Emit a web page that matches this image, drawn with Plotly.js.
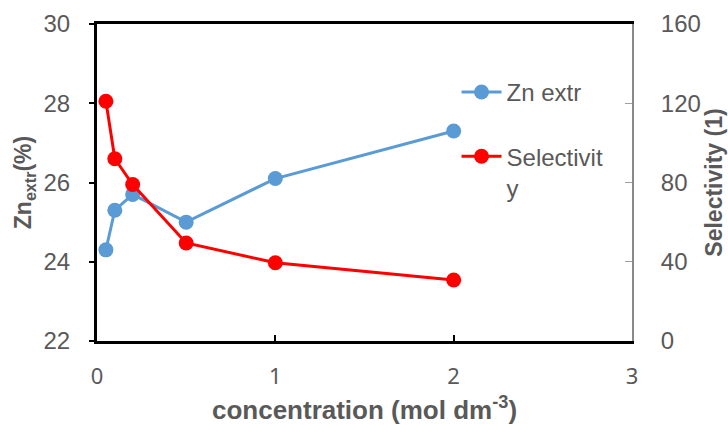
<!DOCTYPE html>
<html>
<head>
<meta charset="utf-8">
<script src="https://cdn.plot.ly/plotly-3.0.1.min.js"></script>
<style>html,body{margin:0;padding:0;background:#fff;}#chart{width:728px;height:425px;}</style>
</head>
<body>
<div id="chart"></div>
<script>
// Data
const concentration = [0.05, 0.1, 0.2, 0.5, 1, 2];
const znExtr = [24.3, 25.3, 25.7, 25.0, 26.1, 27.3];
const selectivity = [121, 92, 79, 49.5, 39.5, 30.8];
const xTicks = [0, 1, 2, 3];
const yLeftTicks = [22, 24, 26, 28, 30];
const yRightTicks = [0, 40, 80, 120, 160];

const txt = '#595959';
const sans = 'Liberation Sans, Arial, sans-serif';

const traces = [
  {
    x: concentration, y: znExtr, name: 'Zn extr', type: 'scatter', mode: 'lines+markers',
    line: {color: '#5B9BD5', width: 3}, marker: {color: '#5B9BD5', size: 15},
    yaxis: 'y', legendgroup: 'a', hoverinfo: 'skip'
  },
  {
    x: concentration, y: selectivity, name: 'Selectivit<br>y', type: 'scatter', mode: 'lines+markers',
    line: {color: '#FF0000', width: 3}, marker: {color: '#FF0000', size: 15},
    yaxis: 'y2', legendgroup: 'b', hoverinfo: 'skip'
  }
];

const layout = {
  width: 728, height: 425,
  margin: {l: 97, r: 96, t: 24, b: 84, pad: 0},
  paper_bgcolor: '#fff', plot_bgcolor: '#fff',
  showlegend: true,
  legend: {
    x: 0.672, y: 0.855, xanchor: 'left', yanchor: 'top',
    font: {family: sans, size: 24, color: txt},
    traceorder: 'grouped', tracegroupgap: 30, valign: 'top',
    bgcolor: 'rgba(0,0,0,0)', itemwidth: 40
  },
  xaxis: {
    range: [0, 3], tickvals: xTicks, ticktext: xTicks.map(String),
    showline: true, linecolor: '#000', linewidth: 3, mirror: true,
    ticks: 'inside', ticklen: 6, tickwidth: 2, tickcolor: '#000',
    showgrid: false, zeroline: false,
    tickfont: {family: 'Noto Sans, sans-serif', size: 22, color: txt},
    ticklabelstandoff: 14,
    title: {text: 'concentration (mol dm<sup>-3</sup>)', font: {family: sans, size: 26, color: txt, weight: 'bold'}, standoff: 18}
  },
  yaxis: {
    range: [22, 30], tickvals: yLeftTicks,
    showline: true, linecolor: '#000', linewidth: 3,
    ticks: 'outside', ticklen: 5, tickwidth: 2, tickcolor: '#000',
    showgrid: false, zeroline: false,
    tickfont: {family: sans, size: 24, color: txt},
    ticklabelstandoff: 14,
    title: {text: 'Zn<sub>extr</sub>(%)', font: {family: sans, size: 23, color: txt, weight: 'bold'}, standoff: 6}
  },
  yaxis2: {
    range: [0, 160], tickvals: yRightTicks, overlaying: 'y', side: 'right',
    showline: true, linecolor: '#8a8a8a', linewidth: 2,
    ticks: 'inside', ticklen: 7, tickwidth: 1, tickcolor: '#a0a0a0',
    showgrid: false, zeroline: false,
    tickfont: {family: sans, size: 24, color: txt},
    ticklabelstandoff: 22,
    title: {text: 'Selectivity (1)', font: {family: sans, size: 23, color: txt, weight: 'bold'}, standoff: 4}
  }
};

Plotly.newPlot('chart', traces, layout, {staticPlot: true, displayModeBar: false});
</script>
</body>
</html>
